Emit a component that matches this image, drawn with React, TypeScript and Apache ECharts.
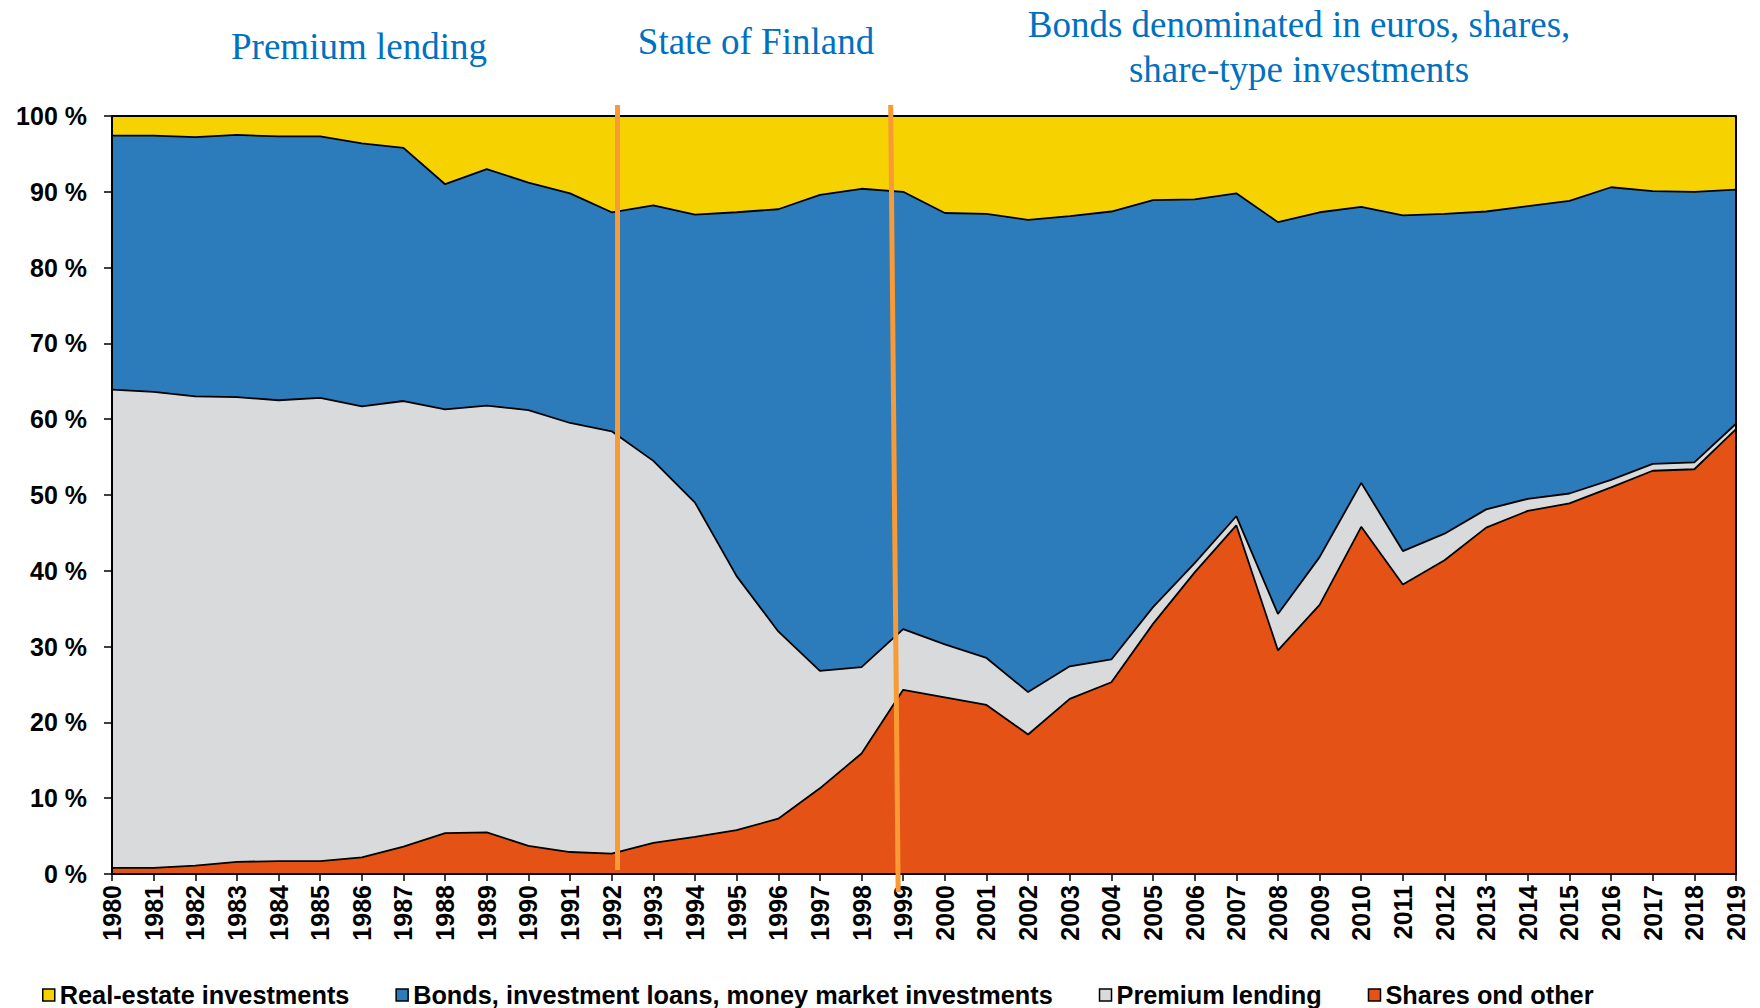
import React, { useEffect, useRef } from "react";
import * as echarts from "echarts";

const years = [
  "1980", "1981", "1982", "1983", "1984", "1985", "1986", "1987", "1988", "1989",
  "1990", "1991", "1992", "1993", "1994", "1995", "1996", "1997", "1998", "1999",
  "2000", "2001", "2002", "2003", "2004", "2005", "2006", "2007", "2008", "2009",
  "2010", "2011", "2012", "2013", "2014", "2015", "2016", "2017", "2018", "2019",
];

// shares of investment portfolio, % (bottom to top of the stack)
const sharesAndOther = [
  0.8, 0.8, 1.1, 1.6, 1.7, 1.7, 2.2, 3.6, 5.4, 5.5,
  3.7, 2.9, 2.7, 4.1, 4.9, 5.8, 7.3, 11.3, 15.9, 24.3,
  23.3, 22.3, 18.4, 23.1, 25.3, 33.0, 39.8, 46.0, 29.5, 35.5,
  45.8, 38.2, 41.4, 45.7, 47.9, 48.9, 51.0, 53.2, 53.4, 58.7,
];
const premiumLending = [
  63.1, 62.8, 61.9, 61.3, 60.8, 61.1, 59.5, 58.8, 55.9, 56.3,
  57.5, 56.6, 55.7, 50.4, 44.1, 33.5, 24.7, 15.5, 11.4, 8.0,
  7.0, 6.2, 5.6, 4.3, 3.0, 2.2, 1.2, 1.2, 4.8, 6.3,
  5.8, 4.4, 3.5, 2.4, 1.6, 1.3, 1.0, 0.9, 0.9, 0.7,
];
const bondsLoansMoneyMarket = [
  33.5, 33.8, 34.2, 34.6, 34.8, 34.5, 34.7, 33.4, 29.7, 31.2,
  30.0, 30.3, 28.9, 33.7, 38.0, 48.0, 55.7, 62.8, 63.1, 57.7,
  56.9, 58.6, 62.3, 59.4, 59.1, 53.7, 48.0, 42.6, 51.7, 45.5,
  36.4, 44.3, 42.2, 39.3, 38.6, 38.6, 38.6, 36.0, 35.7, 30.9,
];
const realEstate = [
  2.6, 2.6, 2.8, 2.5, 2.7, 2.7, 3.6, 4.2, 9.0, 7.0,
  8.8, 10.2, 12.7, 11.8, 13.0, 12.7, 12.3, 10.4, 9.6, 10.0,
  12.8, 12.9, 13.7, 13.2, 12.6, 11.1, 11.0, 10.2, 14.0, 12.7,
  12.0, 13.1, 12.9, 12.6, 11.9, 11.2, 9.4, 9.9, 10.0, 9.7,
];

const seriesNames = [
  "Shares ond other",
  "Premium lending",
  "Bonds, investment loans, money market investments",
  "Real-estate investments",
];
const legendOrder = [
  "Real-estate investments",
  "Bonds, investment loans, money market investments",
  "Premium lending",
  "Shares ond other",
];
const periodTitles = [
  "Premium lending",
  "State of Finland",
  "Bonds denominated in euros, shares,\nshare-type investments",
];

const SANS = "'Liberation Sans', Arial, Helvetica, sans-serif";
const SERIF = "'Liberation Serif', 'Times New Roman', serif";
const fills = ["#E55215", "#D9DADC", "#2C7BBA", "#F6D300"];

export default function App() {
  const ref = useRef<HTMLDivElement>(null);

  useEffect(() => {
    if (!ref.current) return;
    const chart = echarts.init(ref.current, null, { renderer: "svg" });
    const values = [sharesAndOther, premiumLending, bondsLoansMoneyMarket, realEstate];

    const titleLayout = [
      { left: 359, top: 28, lineHeight: 37 },
      { left: 756, top: 23, lineHeight: 37 },
      { left: 1299, top: 2, lineHeight: 45 },
    ];

    chart.setOption({
      animation: false,
      backgroundColor: "#fff",
      title: periodTitles.map((t, i) => ({
        text: t,
        left: titleLayout[i].left,
        top: titleLayout[i].top,
        textAlign: "center",
        padding: 0,
        textStyle: {
          fontFamily: SERIF,
          fontSize: 37,
          fontWeight: "normal",
          color: "#0070C0",
          lineHeight: titleLayout[i].lineHeight,
        },
      })),
      grid: { left: 112, right: 24, top: 116, bottom: 134, containLabel: false },
      legend: {
        left: 37,
        top: 977,
        itemGap: 46,
        itemWidth: 12,
        itemHeight: 12,
        icon: "rect",
        data: legendOrder,
        selectedMode: false,
        itemStyle: { borderColor: "#000", borderWidth: 1.5 },
        textStyle: {
          fontFamily: SANS,
          fontSize: 25.3,
          lineHeight: 26,
          fontWeight: "bold",
          color: "#000",
        },
      },
      xAxis: {
        type: "category",
        data: years,
        boundaryGap: false,
        z: 10,
        axisLine: { show: true, lineStyle: { color: "#000", width: 2 } },
        axisTick: { show: true, length: 7, interval: 0, lineStyle: { color: "#000", width: 1.5 } },
        axisLabel: {
          rotate: 90,
          interval: 0,
          margin: 11,
          fontFamily: SANS,
          fontSize: 25,
          fontWeight: "bold",
          color: "#000",
        },
        splitLine: { show: false },
      },
      yAxis: [
        {
          type: "value",
          min: 0,
          max: 100,
          interval: 10,
          z: 10,
          axisLine: { show: true, lineStyle: { color: "#000", width: 2 } },
          axisTick: { show: true, length: 8, lineStyle: { color: "#000", width: 1.5 } },
          axisLabel: {
            formatter: "{value} %",
            margin: 25,
            fontFamily: SANS,
            fontSize: 25,
            fontWeight: "bold",
            color: "#000",
          },
          splitLine: { show: false },
        },
        {
          type: "value",
          min: 0,
          max: 100,
          interval: 10,
          position: "right",
          z: 10,
          axisLine: { show: true, lineStyle: { color: "#000", width: 2 } },
          axisTick: { show: false },
          axisLabel: { show: false },
          splitLine: { show: false },
        },
      ],
      series: seriesNames.map((name, i) => ({
        name,
        type: "line",
        stack: "total",
        yAxisIndex: 0,
        data: values[i],
        symbol: "none",
        smooth: false,
        z: 6 - i,
        emphasis: { disabled: true },
        itemStyle: { color: fills[i] },
        lineStyle: { color: "#000", width: 1.8 },
        areaStyle: { color: fills[i], opacity: 1 },
      })),
    });

    // orange period dividers, positions in year units from 1980
    const dividers = [
      { topAt: 12.14, bottomAt: 12.14, topOffset: -11, bottomOffset: -4 },
      { topAt: 18.7, bottomAt: 18.88, topOffset: -11, bottomOffset: 18 },
    ];
    const x0 = chart.convertToPixel({ xAxisIndex: 0 }, years[0]) as number;
    const x1 = chart.convertToPixel({ xAxisIndex: 0 }, years[years.length - 1]) as number;
    const yTop = chart.convertToPixel({ yAxisIndex: 0 }, 100) as number;
    const yBot = chart.convertToPixel({ yAxisIndex: 0 }, 0) as number;
    const step = (x1 - x0) / (years.length - 1);

    chart.setOption({
      graphic: dividers.map((d) => ({
        type: "line",
        z: 100,
        silent: true,
        shape: {
          x1: x0 + d.topAt * step,
          y1: yTop + d.topOffset,
          x2: x0 + d.bottomAt * step,
          y2: yBot + d.bottomOffset,
        },
        style: { stroke: "#F89A35", lineWidth: 5 },
      })),
    });

    return () => chart.dispose();
  }, []);

  return (
    <div
      ref={ref}
      style={{ position: "fixed", left: 0, top: 0, width: 1760, height: 1008, background: "#fff" }}
    />
  );
}
